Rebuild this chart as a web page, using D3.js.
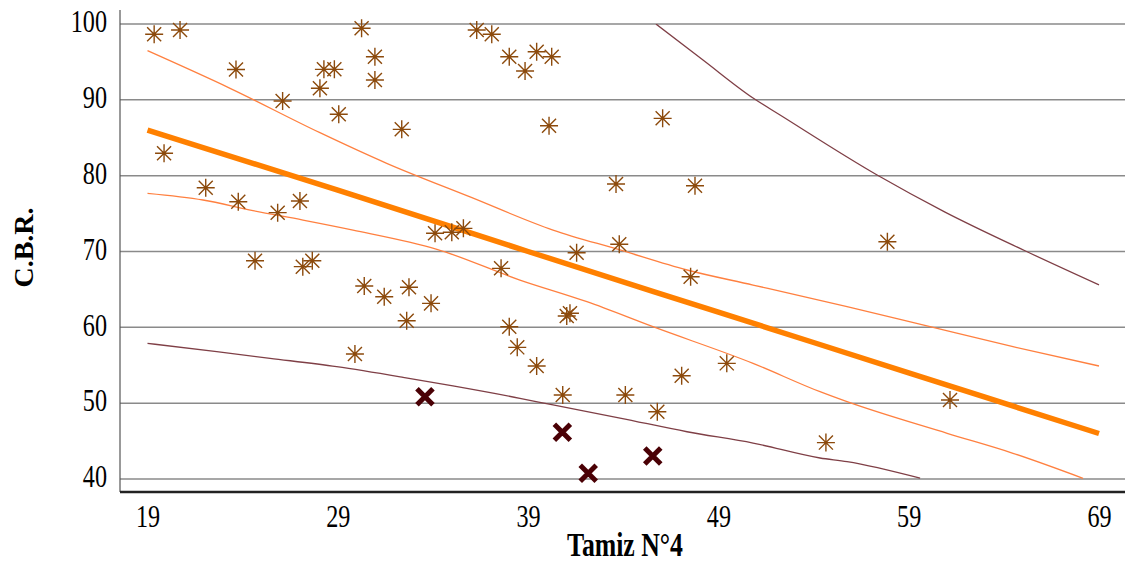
<!DOCTYPE html>
<html><head><meta charset="utf-8">
<script src="https://cdn.jsdelivr.net/npm/d3@7"></script>
<style>body{margin:0;background:#fff}svg{display:block}text{font-family:"Liberation Serif","Times New Roman",serif}</style>
</head><body><svg id="c" width="1125" height="561"></svg>
<script>
// ---- data ----
const xTicks = [19, 29, 39, 49, 59, 69];
const yTicks = [40, 50, 60, 70, 80, 90, 100];
const starX = [19.35,20.71,23.65,30.25,30.95,30.95,28.27,28.82,28.06,26.1,29.05,32.36,19.87,22.06,23.77,25.84,27.01,34.11,34.99,35.6,36.3,37.09,38.01,38.84,39.45,40.24,40.1,46.07,43.62,47.77,43.79,41.55,37.58,47.54,24.65,27.16,27.66,30.39,31.44,32.74,33.9,32.62,29.9,38.01,38.43,39.45,41.03,41.2,40.82,44.11,45.79,47.07,49.44,54.65,57.88,61.17];
const starY = [98.64,99.2,94.0,99.43,95.69,92.62,94.02,94.02,91.52,89.85,88.09,86.11,82.95,78.41,76.57,75.12,76.66,72.4,72.53,73.05,99.2,98.64,95.69,93.8,96.35,95.69,86.59,87.56,78.9,78.68,70.95,69.84,67.78,66.68,68.79,68.0,68.79,65.45,64.04,65.28,63.16,60.87,56.48,60.08,57.36,54.9,61.5,61.85,51.07,51.07,48.87,53.62,55.25,44.8,71.29,50.42];
const crossX = [33.58, 40.8, 42.16, 45.55];
const crossY = [50.86, 46.16, 40.75, 43.03];
const fitX = [19, 29, 39, 49, 59, 69];
const fitY = [86.0, 78.1, 70.0, 62.0, 54.0, 46.0];
const upX = [19.0,23.34,28.06,31.57,35.95,40.31,43.83,47.35,50.82,55.76,60.12,64.48,69.0];
const upY = [96.48,91.52,85.67,81.63,77.2,72.83,70.2,67.56,65.58,62.72,60.08,57.45,54.9];
const loX = [19.0,21.92,24.54,27.17,29.8,34.21,38.57,42.09,45.56,50.82,54.34,55.76,61.02,64.48,68.16];
const loY = [77.67,76.79,75.38,74.15,72.83,70.29,66.24,63.38,60.08,55.25,51.51,50.19,46.02,43.39,40.09];
const predUpX = [45.72,48.19,50.82,52.24,57.34,60.91,65.11,69.0];
const predUpY = [100,95.25,90.24,88.0,80.09,75.2,70.1,65.6];
const predLoX = [19.0,22.64,25.44,28.94,32.43,35.05,38.57,40.31,43.83,47.35,50.82,54.34,55.76,59.6];
const predLoY = [57.89,56.79,55.92,54.81,53.41,52.27,50.64,49.76,48.04,46.23,44.74,42.77,42.28,40.1];

// ---- drawing ----
const svg = d3.select("#c");
const x = d3.scaleLinear().domain([19, 69]).range([147.5, 1099]);
const y = d3.scaleLinear().domain([40, 100]).range([479, 24]);
const pL = 120, pR = 1125, pT = 10, pB = 492;
const sx = 0.78, fs = 31;

// gridlines
svg.append("g").selectAll("line").data(yTicks).join("line")
  .attr("x1", pL).attr("x2", pR)
  .attr("y1", d => y(d)).attr("y2", d => y(d))
  .attr("stroke", "#8a8a8a").attr("stroke-width", 1.5);

// y axis
const ya = svg.append("g").attr("transform", `translate(${pL},0)`)
  .call(d3.axisLeft(y).tickValues(yTicks).tickSize(0).tickPadding(13));
ya.select(".domain").remove();
ya.selectAll("text").attr("font-size", fs).attr("fill", "#000")
  .attr("x", -13 / sx).attr("dy", "0.25em").attr("transform", `scale(${sx},1)`)
  .style("font-family", '"Liberation Serif",serif');
svg.append("line").attr("x1", pL).attr("x2", pL).attr("y1", pT).attr("y2", pB)
  .attr("stroke", "#555").attr("stroke-width", 1.2);

// x axis
const xa = svg.append("g").attr("transform", `translate(0,${pB})`)
  .call(d3.axisBottom(x).tickValues(xTicks).tickSize(0).tickPadding(13));
xa.select(".domain").remove();
xa.selectAll("text").attr("font-size", fs).attr("fill", "#000")
  .attr("transform", `scale(${sx},1)`)
  .style("font-family", '"Liberation Serif",serif');
svg.append("line").attr("x1", pL).attr("x2", pR).attr("y1", pB).attr("y2", pB)
  .attr("stroke", "#222").attr("stroke-width", 2.5);

// titles
svg.append("text").attr("transform", `translate(625,555.5) scale(${sx},1)`).attr("text-anchor", "middle")
  .attr("font-size", 33).attr("font-weight", "bold").text("Tamiz N°4");
svg.append("text").attr("transform", "translate(33,247.5) rotate(-90)").attr("text-anchor", "middle")
  .attr("font-size", 28).attr("font-weight", "bold").text("C.B.R.");

// clip
svg.append("clipPath").attr("id", "clip").append("rect")
  .attr("x", pL).attr("y", y(100)).attr("width", pR - pL).attr("height", y(40) - y(100));

const line = d3.line().x(d => x(d[0])).y(d => y(d[1])).curve(d3.curveMonotoneX);
const pts = (xs, ys) => xs.map((v, i) => [v, ys[i]]);
const lines = svg.append("g").attr("clip-path", "url(#clip)");
function drawLine(xs, ys, color, w) {
  lines.append("path").datum(pts(xs, ys)).attr("d", line)
    .attr("fill", "none").attr("stroke", color).attr("stroke-width", w);
}
drawLine(predUpX, predUpY, "#7f3f46", 1.3);
drawLine(predLoX, predLoY, "#7f3f46", 1.3);
drawLine(upX, upY, "#ff8040", 1.3);
drawLine(loX, loY, "#ff8040", 1.3);
drawLine(fitX, fitY, "#ff8000", 5.5);

// star markers
const s = 9, k = s * 0.78;
const starPath = `M0,${-s}V${s}M${-s},0H${s}M${-k},${-k}L${k},${k}M${-k},${k}L${k},${-k}`;
svg.append("g").selectAll("path").data(pts(starX, starY)).join("path")
  .attr("transform", d => `translate(${x(d[0])},${y(d[1])})`)
  .attr("d", starPath).attr("fill", "none").attr("stroke", "#8c4a0c").attr("stroke-width", 1.4);

// cross markers
const c = 8;
svg.append("g").selectAll("path").data(pts(crossX, crossY)).join("path")
  .attr("transform", d => `translate(${x(d[0])},${y(d[1])})`)
  .attr("d", `M${-c},${-c}L${c},${c}M${-c},${c}L${c},${-c}`)
  .attr("fill", "none").attr("stroke", "#4a0005").attr("stroke-width", 5);
</script></body></html>
